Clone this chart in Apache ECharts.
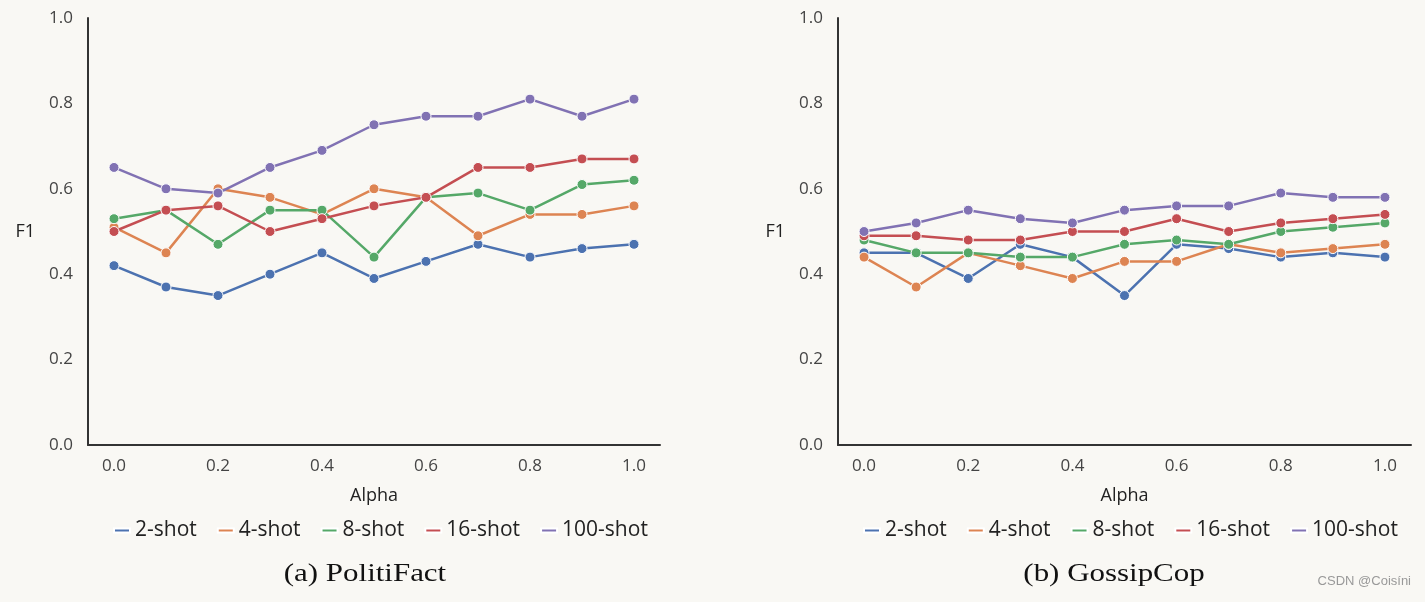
<!DOCTYPE html>
<html>
<head>
<meta charset="utf-8">
<script src="https://cdn.jsdelivr.net/npm/echarts@6/dist/echarts.min.js"></script>
<style>
html,body{margin:0;padding:0;background:#f9f8f4;}
#c{width:1425px;height:602px;}
</style>
</head>
<body>
<div id="c"></div>
<script>
const alphaLabels = ['0.0','0.1','0.2','0.3','0.4','0.5','0.6','0.7','0.8','0.9','1.0'];
const seriesNames = ['2-shot','4-shot','8-shot','16-shot','100-shot'];
const colors = ['#4c72b0','#dd8452','#55a868','#c44e52','#8172b3'];

// (a) PolitiFact
const pf2   = [0.42,0.37,0.35,0.40,0.45,0.39,0.43,0.47,0.44,0.46,0.47];
const pf4   = [0.51,0.45,0.60,0.58,0.54,0.60,0.58,0.49,0.54,0.54,0.56];
const pf8   = [0.53,0.55,0.47,0.55,0.55,0.44,0.58,0.59,0.55,0.61,0.62];
const pf16  = [0.50,0.55,0.56,0.50,0.53,0.56,0.58,0.65,0.65,0.67,0.67];
const pf100 = [0.65,0.60,0.59,0.65,0.69,0.75,0.77,0.77,0.81,0.77,0.81];

// (b) GossipCop
const gc2   = [0.45,0.45,0.39,0.47,0.44,0.35,0.47,0.46,0.44,0.45,0.44];
const gc4   = [0.44,0.37,0.45,0.42,0.39,0.43,0.43,0.47,0.45,0.46,0.47];
const gc8   = [0.48,0.45,0.45,0.44,0.44,0.47,0.48,0.47,0.50,0.51,0.52];
const gc16  = [0.49,0.49,0.48,0.48,0.50,0.50,0.53,0.50,0.52,0.53,0.54];
const gc100 = [0.50,0.52,0.55,0.53,0.52,0.55,0.56,0.56,0.59,0.58,0.58];

const pfData = [pf2,pf4,pf8,pf16,pf100];
const gcData = [gc2,gc4,gc8,gc16,gc100];

const sansFont = 'Open Sans';
const labelFont = {fontFamily:sansFont, fontSize:17, color:'#444'};

function xAxis(gi){
  return {
    type:'category', gridIndex:gi, data:alphaLabels, boundaryGap:true,
    axisLine:{lineStyle:{color:'#333',width:2}},
    axisTick:{show:false},
    axisLabel:Object.assign({interval:1, margin:13}, labelFont),
    name:'Alpha', nameLocation:'middle', nameGap:42,
    nameTextStyle:{fontFamily:sansFont, fontSize:18, color:'#222'},
    splitLine:{show:false}
  };
}
function yAxis(gi){
  return {
    type:'value', gridIndex:gi, min:0, max:1, interval:0.2,
    axisLine:{show:true, lineStyle:{color:'#333',width:2}},
    axisTick:{show:false},
    axisLabel:Object.assign({margin:15, formatter:v=>v.toFixed(1)}, labelFont),
    splitLine:{show:false},
    name:'F1', nameLocation:'middle', nameRotate:0, nameGap:53,
    nameTextStyle:{fontFamily:sansFont, fontSize:18, color:'#222', padding:[10,0,0,0]}
  };
}
const series = [];
[pfData, gcData].forEach((set, gi) => {
  set.forEach((arr, i) => {
    series.push({
      name:seriesNames[i], type:'line', xAxisIndex:gi, yAxisIndex:gi,
      data:arr, symbol:'circle', symbolSize:10,
      lineStyle:{width:2.5, color:colors[i]},
      itemStyle:{color:colors[i], borderColor:'#ffffff', borderWidth:1},
      emphasis:{disabled:true}, z:2+i
    });
  });
});
function legend(left){
  return {
    data:seriesNames, left:left, top:515, icon:'rect', itemWidth:16, itemHeight:4,
    itemGap:20, textStyle:{fontFamily:sansFont, fontSize:21, color:'#222'},
    selectedMode:false
  };
}
const chart = echarts.init(document.getElementById('c'));
chart.setOption({
  backgroundColor:'#f9f8f4',
  animation:false,
  color:colors,
  grid:[
    {left:88, top:18, width:572, height:427},
    {left:838, top:18, width:573, height:427}
  ],
  xAxis:[xAxis(0), xAxis(1)],
  yAxis:[yAxis(0), yAxis(1)],
  legend:[legend(108), legend(858)],
  series:series,
  graphic:[
    {type:'text', x:365, y:574, scaleX:1.19, style:{text:'(a) PolitiFact', fontFamily:'Liberation Serif', fontSize:26, fill:'#111', textAlign:'center', textVerticalAlign:'middle'}},
    {type:'text', x:1114, y:574, scaleX:1.19, style:{text:'(b) GossipCop', fontFamily:'Liberation Serif', fontSize:26, fill:'#111', textAlign:'center', textVerticalAlign:'middle'}},
    {type:'text', right:14, top:575, style:{text:'CSDN @Coisíni', fontFamily:'Liberation Sans', fontSize:13, fill:'#999'}}
  ]
});
</script>
</body>
</html>
